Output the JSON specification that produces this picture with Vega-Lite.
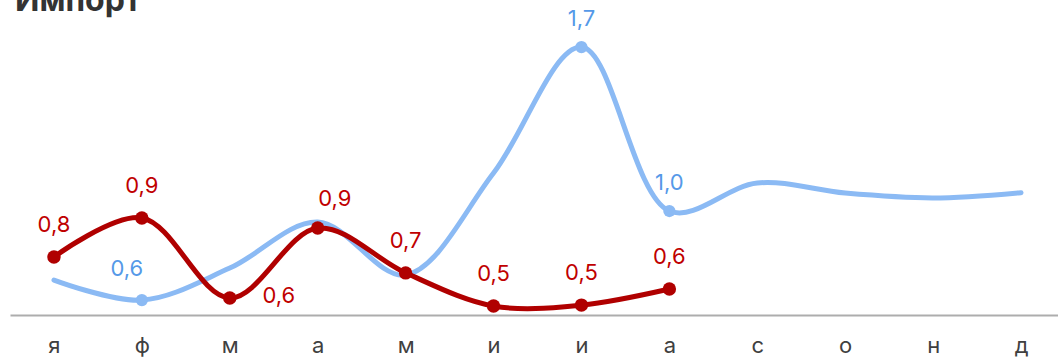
{
  "$schema": "https://vega.github.io/schema/vega-lite/v6.json",
  "autosize": {"type": "none"},
  "width": 1055,
  "height": 299,
  "padding": {"left": 10, "top": 16, "right": -7, "bottom": 43},
  "background": "white",
  "title": {"text": "Импорт", "anchor": "start", "frame": "group", "fontSize": 32, "fontWeight": "bold", "color": "#333333", "font": "Inter", "baseline": "alphabetic", "offset": -35, "dx": 5},
  "config": {
    "view": {"stroke": null},
    "locale": {"number": {"decimal": ",", "thousands": "\u00a0", "grouping": [3], "currency": ["", " ₽"]}}
  },
  "data": {"values": [
    {"i": 1, "series": "blue", "v": 0.652},
    {"i": 2, "series": "blue", "v": 0.565},
    {"i": 3, "series": "blue", "v": 0.704},
    {"i": 4, "series": "blue", "v": 0.904},
    {"i": 5, "series": "blue", "v": 0.674},
    {"i": 6, "series": "blue", "v": 1.117},
    {"i": 7, "series": "blue", "v": 1.665},
    {"i": 8, "series": "blue", "v": 0.952},
    {"i": 9, "series": "blue", "v": 1.074},
    {"i": 10, "series": "blue", "v": 1.030},
    {"i": 11, "series": "blue", "v": 1.009},
    {"i": 12, "series": "blue", "v": 1.032},
    {"i": 1, "series": "red", "v": 0.752},
    {"i": 2, "series": "red", "v": 0.922},
    {"i": 3, "series": "red", "v": 0.574},
    {"i": 4, "series": "red", "v": 0.878},
    {"i": 5, "series": "red", "v": 0.683},
    {"i": 6, "series": "red", "v": 0.539},
    {"i": 7, "series": "red", "v": 0.543},
    {"i": 8, "series": "red", "v": 0.613}
  ]},
  "encoding": {
    "x": {"field": "i", "type": "ordinal", "scale": {"type": "point", "padding": 0.5},
      "axis": {"title": null, "labelExpr": "['я','ф','м','а','м','и','и','а','с','о','н','д'][datum.value-1]", "labelAngle": 0, "labelFont": "Inter", "labelFontSize": 22, "labelColor": "#404040", "labelPadding": 20, "ticks": false, "grid": false, "domainColor": "#ADADAD", "domainWidth": 2}},
    "y": {"field": "v", "type": "quantitative", "scale": {"domain": [0.5, 1.8], "nice": false, "zero": false}, "axis": null}
  },
  "layer": [
    {"transform": [{"filter": "datum.series=='blue'"}], "mark": {"type": "line", "interpolate": "catmull-rom", "color": "#8BBAF4", "strokeWidth": 5, "strokeCap": "round"}},
    {"transform": [{"filter": "datum.series=='blue' && (datum.i==2 || datum.i==7 || datum.i==8)"}], "mark": {"type": "point", "filled": true, "opacity": 1, "color": "#8BBAF4", "size": 150}},
    {"transform": [{"filter": "datum.series=='red'"}], "mark": {"type": "line", "interpolate": "catmull-rom", "color": "#B00000", "strokeWidth": 5, "strokeCap": "round"}},
    {"transform": [{"filter": "datum.series=='red'"}], "mark": {"type": "point", "filled": true, "opacity": 1, "color": "#B00000", "size": 180}},
    {"transform": [{"filter": "datum.series=='red' && datum.i!=3 && datum.i!=4"}], "mark": {"type": "text", "font": "Inter", "fontSize": 22, "color": "#C00000", "baseline": "middle", "dy": -32}, "encoding": {"text": {"field": "v", "type": "quantitative", "format": ".1f"}}},
    {"transform": [{"filter": "datum.series=='red' && datum.i==4"}], "mark": {"type": "text", "font": "Inter", "fontSize": 22, "color": "#C00000", "baseline": "middle", "dy": -29, "dx": 17}, "encoding": {"text": {"field": "v", "type": "quantitative", "format": ".1f"}}},
    {"transform": [{"filter": "datum.series=='red' && datum.i==3"}], "mark": {"type": "text", "font": "Inter", "fontSize": 22, "color": "#C00000", "baseline": "middle", "dy": -2, "dx": 49}, "encoding": {"text": {"field": "v", "type": "quantitative", "format": ".1f"}}},
    {"transform": [{"filter": "datum.series=='blue' && (datum.i==7 || datum.i==8)"}], "mark": {"type": "text", "font": "Inter", "fontSize": 22, "color": "#5599E8", "baseline": "middle", "dy": -28}, "encoding": {"text": {"field": "v", "type": "quantitative", "format": ".1f"}}},
    {"transform": [{"filter": "datum.series=='blue' && datum.i==2"}], "mark": {"type": "text", "font": "Inter", "fontSize": 22, "color": "#5599E8", "baseline": "middle", "dy": -31, "dx": -15}, "encoding": {"text": {"field": "v", "type": "quantitative", "format": ".1f"}}}
  ]
}
